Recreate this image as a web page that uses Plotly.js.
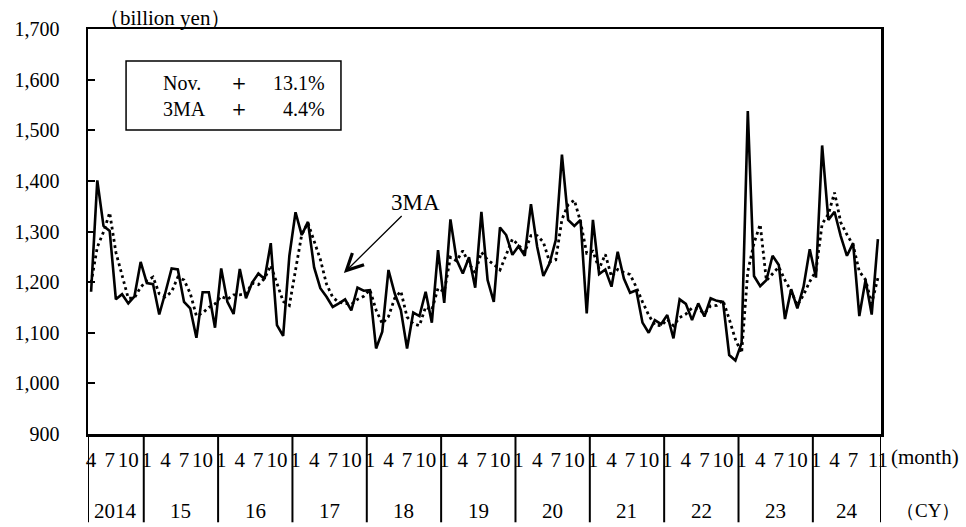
<!DOCTYPE html>
<html>
<head>
<meta charset="utf-8">
<script src="https://cdn.plot.ly/plotly-3.0.1.min.js"></script>
<style>html,body{margin:0;padding:0;background:#fff;}#chart{width:966px;height:527px;}</style>
</head>
<body>
<div id="chart"></div>
<script>
// ---- data (billion yen), monthly from April 2014 to November 2024 ----
const startYear = 2014;
const startMonth = 4;
const yearLabels = ['2014','15','16','17','18','19','20','21','22','23','24'];
const monthly = [
 1181,1401,1311,1301,1166,1176,1158,1172,1240,
 1198,1196,1136,1180,1227,1225,1161,1148,1090,1180,1180,1110,
 1227,1161,1137,1226,1168,1199,1217,1206,1277,1115,1094,1252,
 1338,1293,1319,1229,1188,1171,1151,1158,1166,1144,1189,1183,
 1184,1069,1102,1224,1178,1145,1069,1140,1133,1181,1120,1263,
 1159,1324,1244,1217,1249,1189,1339,1204,1161,1308,1293,1254,
 1271,1252,1354,1270,1212,1237,1283,1452,1323,1311,1323,1138,
 1323,1216,1225,1191,1260,1207,1179,1184,1120,1100,1125,1117,
 1135,1089,1166,1157,1125,1158,1132,1168,1163,1161,1056,1045,
 1080,1538,1212,1192,1204,1252,1234,1127,1186,1148,1191,1265,
 1209,1470,1323,1339,1291,1252,1277,1133,1204,1136,1285
];
const ma3 = [
 1199,1269,1299,1337,1259,1213,1168,1169,1190,
 1203,1210,1177,1171,1181,1210,1204,1178,1133,1139,1150,1157,
 1172,1166,1175,1175,1177,1198,1195,1207,1233,1199,1162,1154,
 1228,1294,1317,1280,1245,1196,1170,1160,1158,1156,1166,1172,
 1185,1145,1118,1132,1168,1182,1131,1118,1114,1151,1145,1188,
 1181,1249,1242,1262,1237,1218,1259,1244,1235,1224,1254,1285,
 1273,1259,1292,1292,1279,1240,1244,1324,1353,1362,1319,1257,
 1261,1226,1255,1211,1225,1219,1215,1190,1161,1135,1115,1114,
 1126,1114,1130,1137,1149,1147,1138,1153,1154,1164,1127,1087,
 1060,1221,1277,1314,1203,1216,1230,1204,1182,1154,1175,1201,
 1222,1315,1334,1377,1318,1294,1273,1221,1205,1158,1208
];
const boxLines = [['Nov.','＋','13.1%'],['3MA','＋','4.4%']];

// ---- derived positions ----
const n = monthly.length;
const idx = monthly.map((_, i) => i);
const monthOf = i => ((startMonth - 1 + i) % 12) + 1;

const tickvals = [], ticktext = [];
idx.forEach(i => {
  const m = monthOf(i);
  const isLast = i === n - 1;
  if (isLast || ([1,4,7,10].includes(m) && i < n - 2)) { tickvals.push(i); ticktext.push(String(m)); }
});

const bounds = [-0.5];
idx.forEach(i => { if (i > 0 && monthOf(i) === 1) bounds.push(i - 0.5); });
bounds.push(n - 0.5);

const FONT = 'Liberation Serif, Times New Roman, serif';
const shapes = bounds.map(b => ({
  type: 'line', xref: 'x', yref: 'paper', x0: b, x1: b, y0: 0, y1: -0.218,
  line: {color: '#000', width: 2}
}));
shapes.push({type: 'rect', xref: 'paper', yref: 'paper', x0: 0.048, x1: 0.319, y0: 0.7506, y1: 0.921,
  line: {color: '#000', width: 1.5}, fillcolor: 'rgba(0,0,0,0)'});

const annotations = [];
for (let k = 0; k < bounds.length - 1; k++) {
  annotations.push({xref: 'x', yref: 'paper', x: (bounds[k] + bounds[k+1]) / 2, y: -0.19,
    text: yearLabels[k], showarrow: false, xanchor: 'center', yanchor: 'middle',
    font: {family: FONT, size: 21, color: '#000'}});
}
annotations.push({xref: 'paper', yref: 'paper', x: 1.0105, y: -0.058, text: '(month)', showarrow: false,
  xanchor: 'left', yanchor: 'middle', font: {family: FONT, size: 21, color: '#000'}});
annotations.push({xref: 'paper', yref: 'paper', x: 1.016, y: -0.19, text: '（CY）', showarrow: false,
  xanchor: 'left', yanchor: 'middle', font: {family: FONT, size: 19, color: '#000'}});
annotations.push({xref: 'paper', yref: 'paper', x: 0.011, y: 1.027, text: '（billion yen）', showarrow: false,
  xanchor: 'left', yanchor: 'middle', font: {family: FONT, size: 21, color: '#000'}});
const rowY = [0.8667, 0.8025];
boxLines.forEach((row, r) => {
  annotations.push({xref: 'paper', yref: 'paper', x: 0.092, y: rowY[r], text: row[0], showarrow: false,
    xanchor: 'left', yanchor: 'middle', font: {family: FONT, size: 20, color: '#000'}});
  annotations.push({xref: 'paper', yref: 'paper', x: 0.190, y: rowY[r], text: row[1], showarrow: false,
    xanchor: 'center', yanchor: 'middle', font: {family: FONT, size: 22, color: '#000'}});
  annotations.push({xref: 'paper', yref: 'paper', x: 0.302, y: rowY[r], text: row[2], showarrow: false,
    xanchor: 'right', yanchor: 'middle', font: {family: FONT, size: 20, color: '#000'}});
});
annotations.push({xref: 'x', yref: 'y', x: 40.8, y: 1218, text: '3MA', showarrow: true,
  ax: 72, ay: -71, arrowhead: 5, arrowsize: 2.5, arrowwidth: 1.3, arrowcolor: '#000',
  font: {family: FONT, size: 23, color: '#000'}});

const traces = [
  {x: idx, y: monthly, type: 'scatter', mode: 'lines', name: 'monthly',
   line: {color: '#000', width: 2.6}, hoverinfo: 'skip'},
  {x: idx, y: ma3, type: 'scatter', mode: 'lines', name: '3MA',
   line: {color: '#000', width: 2.8, dash: '2.8px,3.4px'}, hoverinfo: 'skip'}
];

const layout = {
  width: 966, height: 527,
  margin: {l: 88, r: 85, t: 29, b: 93, pad: 0},
  paper_bgcolor: '#fff', plot_bgcolor: '#fff',
  showlegend: false,
  font: {family: FONT, color: '#000', size: 20},
  xaxis: {range: [-0.5, n - 0.5], tickmode: 'array', tickvals: tickvals, ticktext: ticktext,
    ticks: '', showgrid: false, zeroline: false, showline: true, mirror: true,
    linecolor: '#000', linewidth: 2.5, tickangle: 0, ticklabelstandoff: 5,
    tickfont: {family: FONT, size: 21, color: '#000'}},
  yaxis: {range: [900, 1700], dtick: 100, tick0: 900, tickformat: ',', ticks: 'inside', ticklen: 7,
    tickwidth: 2, tickcolor: '#000', showgrid: false, zeroline: false, showline: true, mirror: true,
    linecolor: '#000', linewidth: 2.5, ticklabelstandoff: 22,
    tickfont: {family: FONT, size: 20, color: '#000'}},
  shapes: shapes,
  annotations: annotations
};

Plotly.newPlot('chart', traces, layout, {staticPlot: true, displayModeBar: false});
</script>
</body>
</html>
